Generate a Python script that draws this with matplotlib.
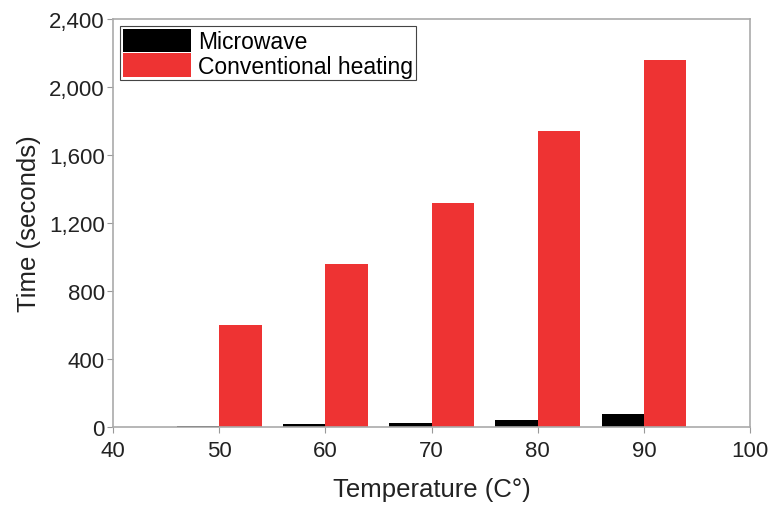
import numpy as np
import matplotlib.pyplot as plt

plt.rcParams['font.family'] = ['Liberation Sans', 'DejaVu Sans']

temps = [50, 60, 70, 80, 90]
microwave = [8, 18, 25, 42, 75]
conventional = [600, 960, 1320, 1740, 2160]

fig = plt.figure(figsize=(7.71, 5.06), dpi=100)
ax = fig.add_axes([0.1466, 0.154, 0.8264, 0.8065])

x = np.array(temps)
ax.bar(x - 2, microwave, width=4, color='black', label='Microwave')
ax.bar(x + 2, conventional, width=4, color='#ee3333', label='Conventional heating')

ax.set_xlim(40, 100)
ax.set_ylim(0, 2400)
ax.set_xticks([40, 50, 60, 70, 80, 90, 100])
ax.set_yticks([0, 400, 800, 1200, 1600, 2000, 2400])
ax.set_yticklabels(['0', '400', '800', '1,200', '1,600', '2,000', '2,400'])
ax.tick_params(labelsize=16, colors='#222222', length=4, color='#999999')
ax.tick_params(axis='x', pad=5)
ax.tick_params(axis='y', pad=2)
for s in ax.spines.values():
    s.set_color('#aaaaaa')
    s.set_linewidth(1.2)

ax.set_xlabel('Temperature (C°)', fontsize=18.5, color='#222222', labelpad=12)
ax.set_ylabel('Time (seconds)', fontsize=18.5, color='#222222', labelpad=6)

leg = ax.legend(loc='upper left', fontsize=16.5, fancybox=False, framealpha=1,
                edgecolor='#444444', handlelength=3.0, handleheight=1.2,
                handletextpad=0.3, labelspacing=0.0, borderpad=0.12,
                borderaxespad=0.3)
leg.get_frame().set_linewidth(0.8)

fig.savefig('out.png', dpi=100)
